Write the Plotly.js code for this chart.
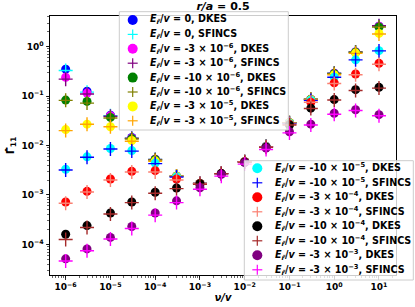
<!DOCTYPE html>
<html><head><meta charset="utf-8">
<script src="https://cdn.plot.ly/plotly-3.0.1.min.js"></script>
<style>html,body{margin:0;padding:0;background:#fff;}#chart{width:415px;height:307px;}</style>
</head><body><div id="chart"></div>
<script>
// collisionality nu/v
const nu = [1e-6,3e-6,1e-5,3e-5,1e-4,3e-4,1e-3,3e-3,1e-2,3e-2,1e-1,3e-1,1,3,10];

// DKES values
const dkes_0      = [0.35, 0.125, 0.041, 0.0145, 0.0053, 0.0024, 0.0017, 0.0027, 0.0047, 0.0095, 0.029, 0.086, 0.29, 0.78, 2.6];
const dkes_m3e6   = [0.24, 0.115, 0.040, 0.0142, 0.0053, 0.0024, 0.0017, 0.0027, 0.0047, 0.0095, 0.029, 0.086, 0.29, 0.78, 2.6];
const dkes_m10e6  = [0.083, 0.078, 0.037, 0.0138, 0.0052, 0.0024, 0.0017, 0.0027, 0.0047, 0.0095, 0.029, 0.086, 0.285, 0.77, 2.5];
const dkes_m3e5   = [0.021, 0.027, 0.024, 0.0126, 0.0049, 0.0024, 0.0017, 0.0027, 0.0047, 0.0094, 0.029, 0.085, 0.27, 0.74, 1.85];
const dkes_m10e5  = [0.0033, 0.0059, 0.0087, 0.0079, 0.0044, 0.0023, 0.0017, 0.0027, 0.0047, 0.0094, 0.028, 0.082, 0.24, 0.54, 0.83];
const dkes_m3e4   = [0.00072, 0.00118, 0.0021, 0.0030, 0.0031, 0.0021, 0.0017, 0.0027, 0.0047, 0.0093, 0.027, 0.075, 0.185, 0.28, 0.46];
const dkes_m10e4  = [0.00016, 0.00024, 0.00043, 0.00072, 0.00113, 0.00138, 0.00168, 0.0027, 0.0046, 0.0092, 0.026, 0.057, 0.085, 0.135, 0.15];
const dkes_m3e3   = [0.000051, 0.000081, 0.000138, 0.00023, 0.00043, 0.00076, 0.0014, 0.0026, 0.0045, 0.0089, 0.019, 0.027, 0.045, 0.053, 0.042];

// SFINCS values
const sfincs_0     = [0.33, 0.12, 0.040, 0.014, 0.0052, 0.0024, 0.0017, 0.0027, 0.0047, 0.0095, 0.029, 0.086, 0.29, 0.78, 2.6];
const sfincs_m3e6  = [0.22, 0.11, 0.039, 0.014, 0.0052, 0.0024, 0.0017, 0.0027, 0.0047, 0.0095, 0.029, 0.086, 0.29, 0.78, 2.65];
const sfincs_m10e6 = [0.082, 0.072, 0.036, 0.0135, 0.0051, 0.0024, 0.0017, 0.0027, 0.0047, 0.0095, 0.029, 0.086, 0.285, 0.77, 2.5];
const sfincs_m3e5  = [0.020, 0.027, 0.024, 0.0122, 0.0048, 0.0024, 0.0017, 0.0027, 0.0047, 0.0094, 0.029, 0.085, 0.27, 0.73, 1.8];
const sfincs_m10e5 = [0.0032, 0.0058, 0.0085, 0.0077, 0.0043, 0.0023, 0.0017, 0.0027, 0.0047, 0.0094, 0.028, 0.082, 0.24, 0.54, 0.82];
const sfincs_m3e4  = [0.00068, 0.00115, 0.0020, 0.0029, 0.0029, 0.0020, 0.0017, 0.0027, 0.0047, 0.0093, 0.027, 0.075, 0.18, 0.27, 0.44];
const sfincs_m10e4 = [0.000125, 0.00022, 0.00041, 0.00070, 0.00108, 0.00134, 0.00165, 0.0027, 0.0046, 0.0092, 0.026, 0.056, 0.083, 0.13, 0.145];
const sfincs_m3e3  = [0.000046, 0.000074, 0.000128, 0.00021, 0.00039, 0.00070, 0.0013, 0.0024, 0.0042, 0.0083, 0.018, 0.026, 0.043, 0.051, 0.040];

// labels
const erLabels = ["0", "-3 × 10<sup>−6</sup>", "-10 × 10<sup>−6</sup>", "-3 × 10<sup>−5</sup>",
                  "-10 × 10<sup>−5</sup>", "-3 × 10<sup>−4</sup>", "-10 × 10<sup>−4</sup>", "-3 × 10<sup>−3</sup>"];
const dkesColors   = ["#0000ff", "#ff00ff", "#008000", "#ffff00", "#00ffff", "#ff0000", "#000000", "#800080"];
const sfincsColors = ["#00ffff", "#800080", "#808000", "#ffa500", "#0000ff", "#fa8072", "#a52a2a", "#ff00ff"];
const dkesData   = [dkes_0, dkes_m3e6, dkes_m10e6, dkes_m3e5, dkes_m10e5, dkes_m3e4, dkes_m10e4, dkes_m3e3];
const sfincsData = [sfincs_0, sfincs_m3e6, sfincs_m10e6, sfincs_m3e5, sfincs_m10e5, sfincs_m3e4, sfincs_m10e4, sfincs_m3e3];

const xTickVals = [1e-6,1e-5,1e-4,1e-3,1e-2,1e-1,1,10];
const xTickText = ["10<sup>−6</sup>","10<sup>−5</sup>","10<sup>−4</sup>","10<sup>−3</sup>","10<sup>−2</sup>","10<sup>−1</sup>","10<sup>0</sup>","10<sup>1</sup>"];
const yTickVals = [1e-4,1e-3,1e-2,1e-1,1];
const yTickText = ["10<sup>−4</sup>","10<sup>−3</sup>","10<sup>−2</sup>","10<sup>−1</sup>","10<sup>0</sup>"];

const FONT = "DejaVu Sans";
const W = 415, H = 307, ML = 50, MR = 19, MT = 16, MB = 32;
const PW = W - ML - MR, PH = H - MT - MB;
const px = x => (x - ML) / PW;
const py = y => (H - MB - y) / PH;

const labelText = (i, code) => "<b><i>E</i><sub><i>r̃</i></sub>/<i>v</i> = " + erLabels[i] + ", " + code + "</b>";

const traces = [];
for (let i = 0; i < 8; i++) {
  traces.push({
    x: nu, y: dkesData[i], type: 'scatter', mode: 'markers', showlegend: false,
    name: labelText(i, 'DKES'),
    marker: {symbol: 'circle', size: 9, color: dkesColors[i], line: {width: 0}}
  });
  traces.push({
    x: nu, y: sfincsData[i], type: 'scatter', mode: 'markers', showlegend: false,
    name: labelText(i, 'SFINCS'),
    marker: {symbol: 'cross-thin-open', size: 10, color: sfincsColors[i], line: {width: 1.4, color: sfincsColors[i]}}
  });
}

// custom legends (two boxes)
const shapes = [], annotations = [];
function legendBox(x0, y0, x1, y1, markX, textX, rowY0, rowStep, idxs) {
  shapes.push({type: 'rect', xref: 'paper', yref: 'paper', layer: 'above',
    x0: px(x0), x1: px(x1), y0: py(y1), y1: py(y0),
    fillcolor: 'rgba(255,255,255,0.8)', line: {color: '#cccccc', width: 1}});
  let row = 0;
  idxs.forEach(i => {
    ['DKES', 'SFINCS'].forEach(code => {
      const yc = rowY0 + rowStep * row;
      if (code === 'DKES') {
        shapes.push({type: 'circle', xref: 'paper', yref: 'paper', layer: 'above',
          xsizemode: 'pixel', ysizemode: 'pixel', xanchor: px(markX), yanchor: py(yc),
          x0: -5, x1: 5, y0: -5, y1: 5, fillcolor: dkesColors[i], line: {width: 0}});
      } else {
        shapes.push({type: 'line', xref: 'paper', yref: 'paper', layer: 'above',
          xsizemode: 'pixel', ysizemode: 'pixel', xanchor: px(markX), yanchor: py(yc),
          x0: -5, x1: 5, y0: 0, y1: 0, line: {color: sfincsColors[i], width: 1.2}});
        shapes.push({type: 'line', xref: 'paper', yref: 'paper', layer: 'above',
          xsizemode: 'pixel', ysizemode: 'pixel', xanchor: px(markX), yanchor: py(yc),
          x0: 0, x1: 0, y0: -5, y1: 5, line: {color: sfincsColors[i], width: 1.2}});
      }
      annotations.push({xref: 'paper', yref: 'paper', x: px(textX), y: py(yc),
        xanchor: 'left', yanchor: 'middle', showarrow: false, borderpad: 0,
        text: labelText(i, code), font: {family: FONT, size: 9.6, color: '#000'}});
      row++;
    });
  });
}
legendBox(119.3, 11.7, 288.3, 130, 132.7, 149, 20, 14.4, [0,1,2,3]);
legendBox(244.3, 160.7, 413.3, 280, 257.3, 274, 168.3, 14.5, [4,5,6,7]);

const axisCommon = {
  type: 'log', showgrid: false, zeroline: false, showline: true, linecolor: '#000', linewidth: 1,
  mirror: true, ticks: 'outside', ticklen: 3.5, tickwidth: 0.8, tickcolor: '#000',
  tickmode: 'array', automargin: false,
  tickfont: {family: FONT, size: 9, color: '#000', weight: 'bold'},
  minor: {ticks: 'outside', ticklen: 2, tickwidth: 0.6, tickcolor: '#000', dtick: 'D1', showgrid: false}
};

const layout = {
  width: W, height: H, paper_bgcolor: '#fff', plot_bgcolor: '#fff',
  margin: {l: ML, r: MR, t: MT, b: MB, pad: 0},
  showlegend: false,
  font: {family: FONT, color: '#000'},
  title: {text: '<b><i>r/a</i> = 0.5</b>', font: {family: FONT, size: 11, color: '#000'},
          x: 0.5, xref: 'paper', xanchor: 'center', y: 1 - 6 / H, yref: 'container', yanchor: 'middle'},
  xaxis: Object.assign({}, axisCommon, {
    range: [-6.35, 1.38], tickvals: xTickVals, ticktext: xTickText,
    title: {text: '<b><i>ν/v</i></b>', font: {family: FONT, size: 10, color: '#000'}, standoff: 2}
  }),
  yaxis: Object.assign({}, axisCommon, {
    range: [-4.62, 0.62], tickvals: yTickVals, ticktext: yTickText,
    title: {text: '<b>Γ̂<sub>11</sub></b>', font: {family: FONT, size: 11, color: '#000'}, standoff: 4}
  }),
  shapes: shapes, annotations: annotations
};

Plotly.newPlot('chart', traces, layout, {staticPlot: true, displayModeBar: false});
</script>
</body></html>
